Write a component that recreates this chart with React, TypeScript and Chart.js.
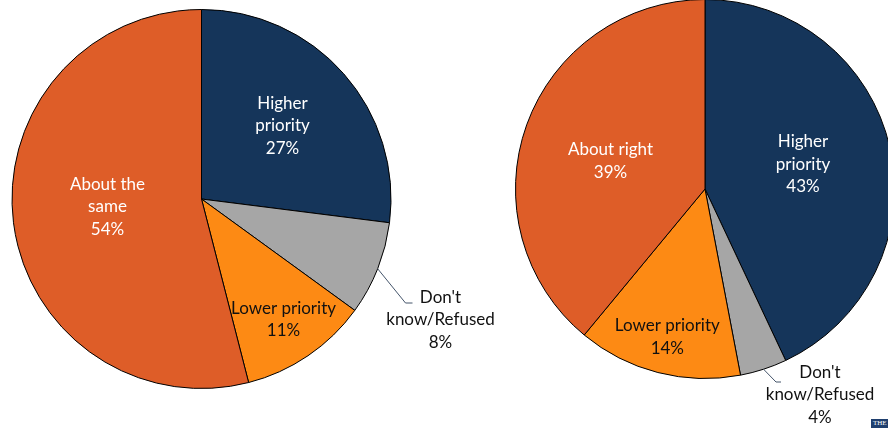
import React, { useEffect, useRef } from "react";
import { Chart, registerables } from "chart.js";

Chart.register(...registerables);

// ---------- DATA ----------
const leftCategories = ["Higher priority", "Don't know/Refused", "Lower priority", "About the same"];
const leftValues = [27, 8, 11, 54];
const leftLabels = [
  ["Higher", "priority", "27%"],
  ["Don't", "know/Refused", "8%"],
  ["Lower priority", "11%"],
  ["About the", "same", "54%"],
];

const rightCategories = ["Higher priority", "Don't know/Refused", "Lower priority", "About right"];
const rightValues = [43, 4, 14, 39];
const rightLabels = [
  ["Higher", "priority", "43%"],
  ["Don't", "know/Refused", "4%"],
  ["Lower priority", "14%"],
  ["About right", "39%"],
];

// ---------- STYLE ----------
const sliceColors = ["#15355A", "#A6A6A6", "#FD8A14", "#DE5D28"];
const textColors = ["#FFFFFF", "#111111", "#111111", "#FFFFFF"];
const FONT = "Lato, 'Open Sans', sans-serif";
const FONT_SIZE = 17;
const LINE_H = 22.5;

type LabelStyle = {
  insideFrac: (number | null)[];
  nudgeY: number[];
  outside: { idx: number; elbow: [number, number]; end: [number, number]; text: [number, number] };
};

const leftStyle: LabelStyle = {
  insideFrac: [0.57, null, 0.77, 0.5],
  nudgeY: [-2, 0, 0, -4],
  outside: { idx: 1, elbow: [204, 104], end: [211, 104], text: [239, 121] },
};
const rightStyle: LabelStyle = {
  insideFrac: [0.53, null, 0.8, 0.53],
  nudgeY: [-3, 0, 1, 6],
  outside: { idx: 1, elbow: [71, 193], end: [76, 193], text: [115, 206] },
};

function makeLabelPlugin(labels: string[][], style: LabelStyle) {
  return {
    id: "sliceLabels",
    afterDatasetsDraw(chart: any) {
      const ctx = chart.ctx;
      const meta = chart.getDatasetMeta(0);
      ctx.save();
      ctx.font = `${FONT_SIZE}px ${FONT}`;
      ctx.textAlign = "center";
      ctx.textBaseline = "middle";
      meta.data.forEach((arc: any, i: number) => {
        const { x, y, startAngle, endAngle, outerRadius } = arc.getProps(
          ["x", "y", "startAngle", "endAngle", "outerRadius"],
          true
        );
        const mid = (startAngle + endAngle) / 2;
        const lines = labels[i];
        const frac = style.insideFrac[i];
        let tx: number, ty: number;
        if (frac !== null && frac !== undefined) {
          tx = x + Math.cos(mid) * outerRadius * frac;
          ty = y + Math.sin(mid) * outerRadius * frac + style.nudgeY[i];
        } else {
          const o = style.outside;
          const sx = x + Math.cos(mid) * outerRadius;
          const sy = y + Math.sin(mid) * outerRadius;
          ctx.strokeStyle = "#44546A";
          ctx.lineWidth = 1;
          ctx.beginPath();
          ctx.moveTo(sx, sy);
          ctx.lineTo(x + o.elbow[0], y + o.elbow[1]);
          ctx.lineTo(x + o.end[0], y + o.end[1]);
          ctx.stroke();
          tx = x + o.text[0];
          ty = y + o.text[1];
        }
        ctx.fillStyle = textColors[i];
        const n = lines.length;
        lines.forEach((ln, k) => {
          ctx.fillText(ln, tx, ty + (k - (n - 1) / 2) * LINE_H);
        });
      });
      ctx.restore();
    },
  };
}

function PieCanvas(props: {
  categories: string[];
  values: number[];
  labels: string[][];
  style: LabelStyle;
  padding: { left: number; right: number; top: number; bottom: number };
  left: number;
  width: number;
}) {
  const ref = useRef<HTMLCanvasElement | null>(null);
  useEffect(() => {
    if (!ref.current) return;
    const chart = new Chart(ref.current, {
      type: "pie",
      data: {
        labels: props.categories,
        datasets: [
          {
            data: props.values,
            backgroundColor: sliceColors,
            borderColor: "#000000",
            borderWidth: 1,
          },
        ],
      },
      options: {
        animation: false,
        responsive: false,
        maintainAspectRatio: false,
        layout: { padding: props.padding },
        plugins: {
          legend: { display: false },
          tooltip: { enabled: false },
        },
      },
      plugins: [makeLabelPlugin(props.labels, props.style)],
    });
    return () => chart.destroy();
  }, []);
  return (
    <canvas
      ref={ref}
      width={props.width}
      height={440}
      style={{ position: "absolute", left: props.left, top: -10, width: props.width, height: 440 }}
    />
  );
}

export default function App() {
  return (
    <div
      style={{
        position: "absolute",
        left: 0,
        top: 0,
        width: 888,
        height: 428,
        overflow: "hidden",
        background: "#FFFFFF",
      }}
    >
      <PieCanvas
        categories={leftCategories}
        values={leftValues}
        labels={leftLabels}
        style={leftStyle}
        padding={{ left: 11, right: 108, top: 19, bottom: 41 }}
        left={0}
        width={500}
      />
      <PieCanvas
        categories={rightCategories}
        values={rightValues}
        labels={rightLabels}
        style={rightStyle}
        padding={{ left: 15, right: 5, top: 9, bottom: 51 }}
        left={500}
        width={400}
      />
      <div
        style={{
          position: "absolute",
          left: 871,
          top: 419,
          width: 20,
          height: 12,
          background: "#1F3F6E",
          color: "#FFFFFF",
          fontFamily: "serif",
          fontSize: 7,
          lineHeight: "9px",
          paddingLeft: 2,
          boxSizing: "border-box",
        }}
      >
        THE
      </div>
    </div>
  );
}
